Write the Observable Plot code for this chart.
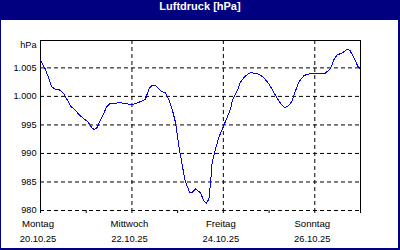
<!DOCTYPE html>
<html>
<head>
<meta charset="utf-8">
<script src="https://cdn.jsdelivr.net/npm/d3@7"></script>
<script src="https://cdn.jsdelivr.net/npm/@observablehq/plot@0.6"></script>
<style>
  html, body { margin: 0; padding: 0; background: #fff; }
  #wrap { position: relative; width: 400px; height: 250px; background: #000080; overflow: hidden; }
  #title { height: 20px; line-height: 18px; color: #fff; text-align: center;
           font: bold 11px "Liberation Sans", Arial, sans-serif; }
  #chart { position: absolute; left: 1px; top: 20px; width: 397px; height: 228px; background: #fff; }
  #chart svg { display: block; }
</style>
</head>
<body>
<div id="wrap">
  <div id="title">Luftdruck [hPa]</div>
  <div id="chart"></div>
</div>
<script>
// Hours since Monday 20.10.25 00:00 and air pressure (hPa)
const hours = [0, 2.5, 4.2, 5.9, 7.4, 9.8, 12.1, 13.8, 16.1, 18.2, 20.3, 22.6, 24.8, 26.9, 28.2, 29.6,
  32.2, 34.8, 36.6, 39.2, 41.8, 43.6, 47.1, 49.9, 52.5, 55.1, 56.9, 58.6, 60.4, 63, 65.6, 67.4,
  69.1, 70.9, 72.6, 74.4, 76.1, 78.4, 79.6, 81.4, 84, 85.7, 87.2, 88.4, 89.3, 90.1, 91.9, 93.6,
  96.2, 98, 99.8, 100.6, 103.3, 105, 107.6, 110.3, 112.9, 114.6, 117.2, 119.9, 122.5, 125.1,
  126.9, 128.3, 130.4, 132.1, 133.9, 135.6, 138.2, 140, 144.4, 149.6, 152.3, 154, 155.8, 158.4,
  161, 162.4, 164.5, 166.6, 167.6];
const pressure = [1006.3, 1004.8, 1003.3, 1001.7, 1001.3, 1001.2, 1000.5, 999.5, 998.2, 997.6, 996.8, 996.1, 995.6, 994.5, 994.2, 994.5,
  996.3, 998.2, 998.8, 998.8, 998.9, 998.8, 998.6, 998.7, 999.1, 999.5, 1001.3, 1002.0, 1001.9, 1001.0, 1000.6, 999.5,
  997.8, 995.4, 991.4, 987.9, 985.0, 983.1, 983.2, 983.8, 983.1, 981.7, 981.3, 982.0, 985.0, 988.4, 990.8, 992.8,
  994.9, 996.3, 997.8, 999.2, 1001.0, 1002.5, 1003.6, 1004.2, 1004.0, 1003.9, 1003.3, 1002.2, 1000.7, 999.2,
  998.4, 998.0, 998.4, 999.2, 1001.0, 1002.5, 1003.6, 1003.9, 1004.0, 1004.1, 1004.9, 1006.4, 1007.3, 1007.6,
  1008.3, 1008.1, 1006.8, 1005.3, 1004.9];

const allDays = ["2025-10-20", "2025-10-21", "2025-10-22", "2025-10-23", "2025-10-24", "2025-10-25", "2025-10-26", "2025-10-27"];
const labelDays = ["2025-10-20", "2025-10-22", "2025-10-24", "2025-10-26"];
const weekdays = ["Montag", "Mittwoch", "Freitag", "Sonntag"];
const dateLabels = ["20.10.25", "22.10.25", "24.10.25", "26.10.25"];
const yTicks = [980, 985, 990, 995, 1000, 1005];
const yMin = 980, yMax = 1009.8;

const t0 = Date.UTC(2025, 9, 20);
const data = hours.map((h, i) => ({ t: new Date(t0 + h * 3600e3), p: pressure[i] }));
const dayDates = allDays.map(d => new Date(d + "T00:00:00Z"));
const majorDates = labelDays.map(d => new Date(d + "T00:00:00Z"));
const start = dayDates[0], end = dayDates[dayDates.length - 1];

const de = d3.formatLocale({ decimal: ",", thousands: ".", grouping: [3], currency: ["", " €"] });
const fmt = de.format(",d");

const dash = "4,3";
const chart = Plot.plot({
  width: 397,
  height: 228,
  marginLeft: 39,
  marginRight: 38,
  marginTop: 20,
  marginBottom: 38,
  style: { fontFamily: "'Liberation Sans', Arial, sans-serif", fontSize: "9px", color: "#000", background: "#fff", overflow: "visible" },
  x: { type: "utc", domain: [start, end] },
  y: { domain: [yMin, yMax] },
  marks: [
    Plot.gridY(yTicks, { stroke: "#000", strokeOpacity: 1, strokeDasharray: dash }),
    Plot.gridX(majorDates, { stroke: "#000", strokeOpacity: 1, strokeDasharray: dash }),
    Plot.ruleX([start, end], { stroke: "#000" }),
    Plot.ruleY([yMax], { stroke: "#000" }),
    Plot.axisY({ ticks: yTicks, tickSize: 0, tickPadding: 4, tickFormat: fmt, label: null, fontSize: 9.2 }),
    Plot.axisX({ ticks: dayDates, tickSize: 3, tickFormat: () => "", label: null, stroke: "#000" }),
    Plot.axisX({ ticks: majorDates, tickSize: 0, tickPadding: 10, tickFormat: (d, i) => weekdays[i], dx: -2.5, label: null, fontSize: 9.6 }),
    Plot.axisX({ ticks: majorDates, tickSize: 0, tickPadding: 25, tickFormat: (d, i) => dateLabels[i], dx: -2.5, label: null, fontSize: 9.4 }),
    Plot.line(data, { x: "t", y: "p", stroke: "#0000ff", strokeWidth: 1, shapeRendering: "crispEdges" }),
    Plot.text(["hPa"], { text: d => d, frameAnchor: "top-left", textAnchor: "end", lineAnchor: "middle", dx: -4, dy: 4.5, fontSize: 9.2 })
  ]
});
document.getElementById("chart").appendChild(chart);
</script>
</body>
</html>
